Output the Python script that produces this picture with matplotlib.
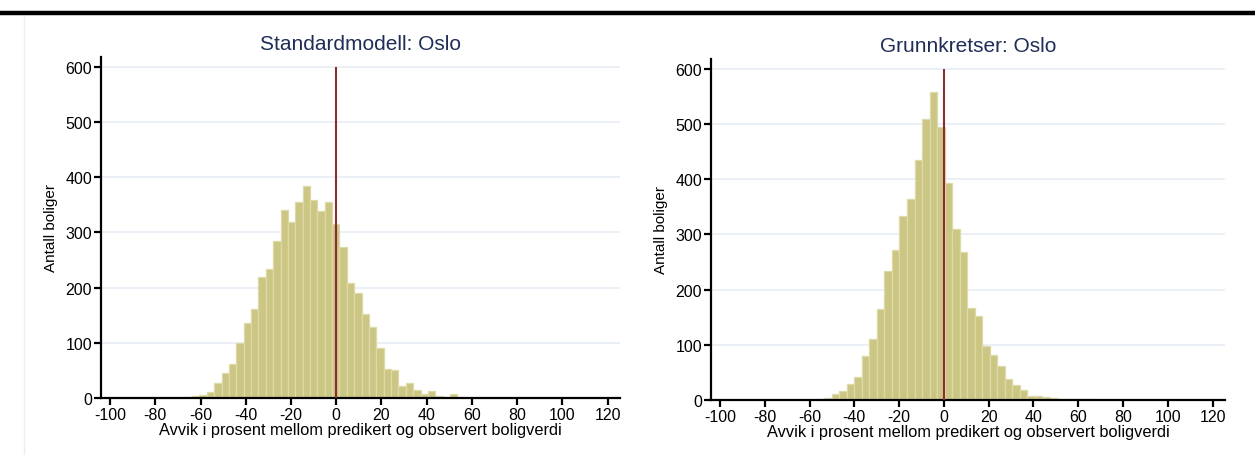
import numpy as np
import matplotlib
matplotlib.use("Agg")
import matplotlib.pyplot as plt
from matplotlib.lines import Line2D

plt.rcParams["font.family"] = ["Liberation Sans", "DejaVu Sans"]

# counts per bin
std_counts = [2, 3, 5, 11, 27, 46, 62, 99, 135, 162, 220, 233, 285, 340, 318,
              356, 385, 358, 338, 355, 316, 273, 208, 191, 153, 129, 91, 53,
              51, 21, 27, 15, 7, 13, 4, 2, 7]
std_start = -67.0
std_width = 3.26

grk_counts = [2, 4, 11, 17, 29, 41, 80, 111, 165, 233, 271, 333, 365, 434,
              509, 558, 495, 393, 309, 269, 166, 153, 98, 82, 62, 38, 27, 19,
              8, 8, 6, 4, 2, 2, 2, 2, 2]
grk_start = -56.8
grk_width = 3.36

titles = ["Standardmodell: Oslo", "Grunnkretser: Oslo"]
x_ticks = list(range(-100, 121, 20))
y_ticks = [0, 100, 200, 300, 400, 500, 600]
x_label = "Avvik i prosent mellom predikert og observert boligverdi"
y_label = "Antall boliger"

bar_color = "#ccc684"
bar_edge = "#dedaa8"
ref_color = "#8e2b30"
title_color = "#1f2d57"
grid_color = "#e8eff4"

fig = plt.figure(figsize=(12.55, 4.56), dpi=100)

# top rule of the report figure
fig.add_artist(Line2D([0, 1], [0.969, 0.969], color="black", lw=3.2,
                      transform=fig.transFigure))
fig.add_artist(Line2D([0.019, 0.019], [0.0, 0.963], color="#eeeeee", lw=1,
                      transform=fig.transFigure))

panels = [
    ([0.0805, 0.125, 0.4135, 0.748], std_counts, std_start, std_width, titles[0]),
    ([0.5665, 0.1206, 0.4096, 0.748], grk_counts, grk_start, grk_width, titles[1]),
]

for rect, counts, start, width, title in panels:
    ax = fig.add_axes(rect)
    lefts = start + width * np.arange(len(counts))
    ax.bar(lefts, counts, width=width, align="edge", color=bar_color,
           edgecolor=bar_edge, linewidth=0.9, zorder=2)
    ax.vlines(0, 0, 600, color=ref_color, lw=1.5, zorder=3)

    for y in y_ticks[1:]:
        ax.axhline(y, color=grid_color, lw=1.3, zorder=1)

    ax.set_xlim(-104, 125.5)
    ax.set_ylim(0, 618)
    ax.set_xticks(x_ticks)
    ax.set_xticklabels([str(t) for t in x_ticks])
    ax.set_yticks(y_ticks)

    for side in ["top", "right"]:
        ax.spines[side].set_visible(False)
    for side in ["left", "bottom"]:
        ax.spines[side].set_linewidth(1.6)
        ax.spines[side].set_color("black")
    ax.tick_params(axis="both", direction="out", length=5, width=1.6,
                   labelsize=11.5, colors="black", pad=1.5)

    ax.set_title(title, color=title_color, fontsize=15, pad=6)
    ax.set_xlabel(x_label, fontsize=11.8, labelpad=0)
    ax.set_ylabel(y_label, fontsize=11, labelpad=5)

fig.savefig("out.png", dpi=100, facecolor="white")
